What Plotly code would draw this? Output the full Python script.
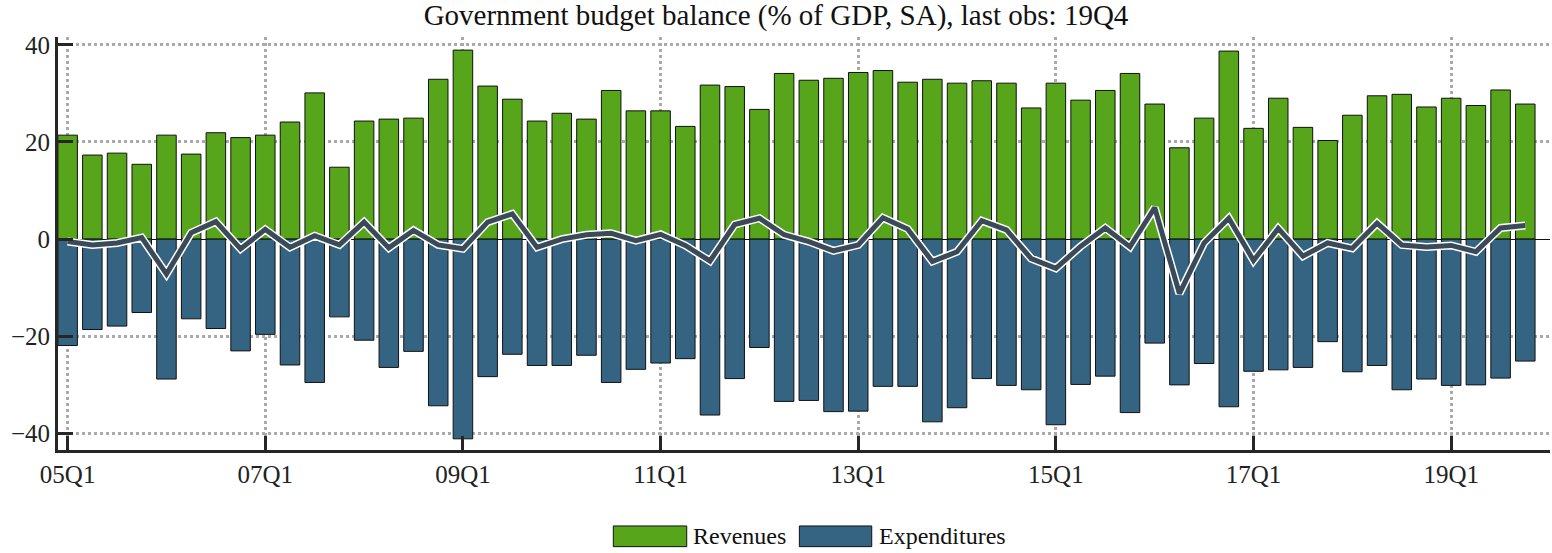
import plotly.graph_objects as go

quarters = [f"{y:02d}Q{q}" for y in range(5, 20) for q in range(1, 5)]

revenues = [21.4, 17.3, 17.7, 15.4, 21.4, 17.5, 21.9, 20.9, 21.4, 24.1,
            30.1, 14.8, 24.3, 24.7, 24.9, 32.9, 38.9, 31.5, 28.8, 24.3,
            25.9, 24.7, 30.6, 26.4, 26.4, 23.2, 31.7, 31.4, 26.7, 34.1,
            32.7, 33.1, 34.3, 34.7, 32.3, 32.9, 32.1, 32.6, 32.1, 27.0,
            32.1, 28.6, 30.6, 34.1, 27.8, 18.8, 24.9, 38.7, 22.8, 29.0,
            23.0, 20.3, 25.5, 29.5, 29.8, 27.2, 29.0, 27.5, 30.7, 27.8]

expenditures = [-21.9, -18.6, -17.9, -15.1, -28.8, -16.4, -18.4, -23.0, -19.6, -25.9,
                -29.5, -16.0, -20.8, -26.4, -23.1, -34.3, -41.1, -28.3, -23.7, -26.0,
                -26.0, -23.9, -29.5, -26.8, -25.5, -24.6, -36.2, -28.7, -22.3, -33.4,
                -33.2, -35.5, -35.4, -30.3, -30.3, -37.6, -34.7, -28.7, -30.1, -31.0,
                -38.2, -29.9, -28.2, -35.7, -21.4, -30.0, -25.6, -34.5, -27.2, -26.9,
                -26.4, -21.1, -27.3, -26.0, -31.0, -28.8, -30.1, -30.0, -28.6, -25.1]

balance = [-0.5, -1.2, -0.8, 0.3, -7.2, 1.3, 3.6, -2.0, 2.0, -1.7,
           0.7, -1.2, 3.5, -1.8, 1.8, -1.2, -2.0, 3.5, 5.2, -1.7,
           0.0, 0.9, 1.2, -0.3, 1.0, -1.3, -4.5, 3.0, 4.3, 0.9,
           -0.5, -2.4, -1.2, 4.4, 2.1, -4.6, -2.6, 3.8, 1.9, -4.0,
           -6.0, -1.5, 2.3, -1.6, 6.5, -11.2, -0.8, 4.3, -4.4, 2.2,
           -3.5, -0.8, -1.9, 3.3, -1.2, -1.6, -1.3, -2.6, 2.3, 2.8]

tick_labels = ["05Q1", "07Q1", "09Q1", "11Q1", "13Q1", "15Q1", "17Q1", "19Q1"]
y_ticks = [-40, -20, 0, 20, 40]

GREEN = "#57A51A"
BLUE = "#356482"
LINE = "#3A4A59"
FONT = "Liberation Serif, Times New Roman, serif"

fig = go.Figure()
fig.add_trace(go.Bar(x=quarters, y=revenues, name="Revenues",
                     marker=dict(color=GREEN, line=dict(color="#111111", width=1))))
fig.add_trace(go.Bar(x=quarters, y=expenditures, name="Expenditures",
                     marker=dict(color=BLUE, line=dict(color="#111111", width=1))))
fig.add_trace(go.Scatter(x=quarters, y=balance, mode="lines", showlegend=False,
                         line=dict(color="white", width=8), hoverinfo="skip"))
fig.add_trace(go.Scatter(x=quarters, y=balance, mode="lines", name="Balance", showlegend=False,
                         line=dict(color=LINE, width=5)))

fig.update_layout(
    width=1552, height=553,
    barmode="relative", bargap=0.21,
    plot_bgcolor="white", paper_bgcolor="white",
    margin=dict(l=58, r=2, t=37, b=103),
    showlegend=False,
    font=dict(family=FONT, size=24, color="#222222"),
    title=dict(text="Government budget balance (% of GDP, SA), last obs: 19Q4",
               x=0.5, xanchor="center", y=0.974, yanchor="middle",
               font=dict(family=FONT, size=29, color="#111111")),
)

fig.update_xaxes(
    type="category", range=[-0.39, 60.0],
    tickmode="array", tickvals=tick_labels, ticktext=tick_labels,
    showline=True, linecolor="#262626", linewidth=3,
    ticks="inside", ticklen=14, tickwidth=3, tickcolor="#262626",
    showgrid=True, gridcolor="#AAAAAA", gridwidth=2.5, griddash="dot",
    tickfont=dict(family=FONT, size=25, color="#222222"),
    ticklabelstandoff=0,
)
fig.update_yaxes(
    range=[-43.4, 41.6], tickvals=y_ticks,
    showline=True, linecolor="#262626", linewidth=3,
    ticks="inside", ticklen=15, tickwidth=3, tickcolor="#262626",
    showgrid=True, gridcolor="#AAAAAA", gridwidth=2.5, griddash="dot",
    zeroline=True, zerolinecolor="#111111", zerolinewidth=1,
    tickfont=dict(family=FONT, size=25, color="#222222"),
)

# legend drawn manually as wide swatches
legend_items = [("Revenues", GREEN, 0.3722, 0.4214, 0.4243),
                ("Expenditures", BLUE, 0.4969, 0.5454, 0.5489)]
for label, color, x0, x1, xt in legend_items:
    fig.add_shape(type="rect", xref="paper", yref="paper", x0=x0, x1=x1,
                  y0=-0.234, y1=-0.1839, fillcolor=color,
                  line=dict(color="#111111", width=1))
    fig.add_annotation(xref="paper", yref="paper", x=xt, y=-0.2093,
                       text=label, showarrow=False, xanchor="left", yanchor="middle",
                       font=dict(family=FONT, size=24, color="#111111"))

fig.write_html("out.html", config={"displayModeBar": False},
               post_script="document.body.style.margin='0px';document.body.style.overflow='hidden';")
